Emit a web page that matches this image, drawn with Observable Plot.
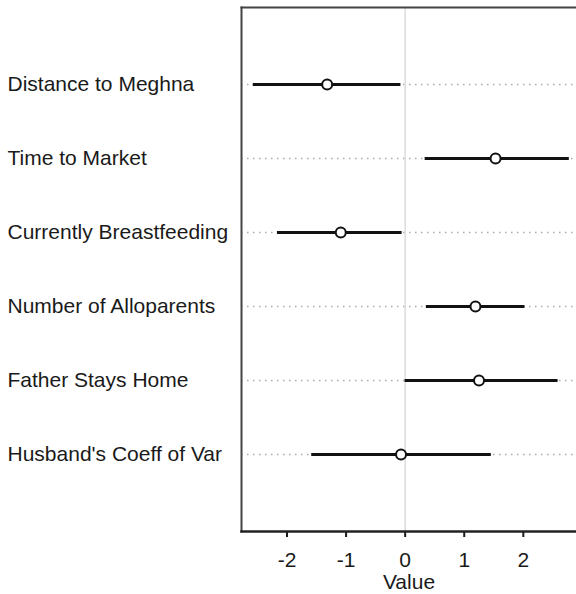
<!DOCTYPE html>
<html>
<head>
<meta charset="utf-8">
<script src="https://cdn.jsdelivr.net/npm/d3@7"></script>
<script src="https://cdn.jsdelivr.net/npm/@observablehq/plot@0.6"></script>
<style>
  html, body { margin: 0; padding: 0; background: #fff; overflow: hidden; }
</style>
</head>
<body>
<div id="chart"></div>
<script>
const categories = ["Distance to Meghna", "Time to Market", "Currently Breastfeeding", "Number of Alloparents", "Father Stays Home", "Husband's Coeff of Var"];
const estimates = [-1.32, 1.53, -1.09, 1.19, 1.25, -0.07];
const lower = [-2.58, 0.33, -2.17, 0.35, -0.01, -1.59];
const upper = [-0.08, 2.77, -0.06, 2.02, 2.58, 1.45];
const xTicks = [-2, -1, 0, 1, 2];

const data = categories.map((c, i) => ({name: c, est: estimates[i], lo: lower[i], hi: upper[i]}));

const plot = Plot.plot({
  width: 576,
  height: 594,
  marginLeft: 241,
  marginRight: 0,
  marginTop: 7,
  marginBottom: 63,
  style: {fontFamily: "Liberation Sans, Arial, Helvetica, sans-serif", fontSize: "21px", color: "#1a1a1a", background: "#fff"},
  x: {domain: [-2.77, 2.9]},
  y: {domain: categories, padding: 1, type: "point"},
  marks: [
    Plot.gridY(categories, {stroke: "#aaa", strokeOpacity: 1, strokeWidth: 1.5, strokeDasharray: "1.5,4.5"}),
    Plot.ruleX([0], {stroke: "#dcdcdc", strokeWidth: 1.5}),
    Plot.link(data, {x1: "lo", x2: "hi", y1: "name", y2: "name", stroke: "#111", strokeWidth: 3}),
    Plot.dot(data, {x: "est", y: "name", r: 5, stroke: "#111", strokeWidth: 2, fill: "#fff"}),
    Plot.axisY({tickSize: 0, tickPadding: 234, textAnchor: "start", label: null, fontSize: 21}),
    Plot.axisX(xTicks, {tickSize: 6, tickPadding: 15, strokeWidth: 2, fontSize: 21, tickFormat: d => String(d), label: "Value", labelAnchor: "center", labelArrow: "none", labelOffset: 57}),
    Plot.frame({anchor: "left", stroke: "#444", strokeWidth: 2}),
    Plot.frame({anchor: "top", stroke: "#444", strokeWidth: 2}),
    Plot.frame({anchor: "bottom", stroke: "#222", strokeWidth: 2.5})
  ]
});
document.getElementById("chart").appendChild(plot);
</script>
</body>
</html>
